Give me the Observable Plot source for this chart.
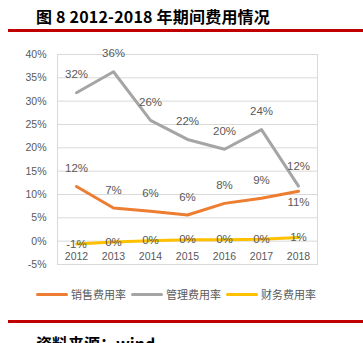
<!DOCTYPE html>
<html><head><meta charset="utf-8">
<script src="https://cdn.jsdelivr.net/npm/d3@7"></script>
<script src="https://cdn.jsdelivr.net/npm/@observablehq/plot@0.6"></script>
<style>
body{margin:0;width:363px;height:343px;overflow:hidden;background:#fff;font-family:"Noto Sans CJK SC","Noto Sans",sans-serif;position:relative}
#title{position:absolute;left:36px;top:4px;font-size:16px;font-weight:bold;color:#000;white-space:nowrap;letter-spacing:0.2px}
.redline{position:absolute;left:8px;right:0;height:3px;background:#c00000}
#chart{position:absolute;left:0;top:0}
#legend{position:absolute;left:36px;top:286px;display:flex;align-items:center;font-size:11px;color:#595959;white-space:nowrap}
#legend .sw{display:inline-block;width:32px;height:3px;border-radius:2px;margin-right:3px}
#legend .it{display:flex;align-items:center;margin-right:5px}
#source{position:absolute;left:36px;top:331px;font-size:16px;font-weight:bold;color:#000;white-space:nowrap}
</style></head>
<body>
<div id="title">图 8 2012-2018 年期间费用情况</div>
<div class="redline" style="top:29px"></div>
<div id="chart"></div>
<div id="legend"></div>
<div class="redline" style="top:320px"></div>
<div id="source">资料来源：wind</div>
<script>
const years = ["2012","2013","2014","2015","2016","2017","2018"];
const sales = [11.7, 7.1, 6.4, 5.6, 8.1, 9.2, 10.7];
const mgmt  = [31.8, 36.3, 25.9, 21.8, 19.7, 23.9, 11.8];
const fin   = [-0.6, -0.2, 0.1, 0.3, 0.3, 0.4, 0.8];
const salesLabels = ["12%","7%","6%","6%","8%","9%","11%"];
const mgmtLabels  = ["32%","36%","26%","22%","20%","24%","12%"];
const finLabels   = ["-1%","0%","0%","0%","0%","0%","1%"];
const yTicks = [-5,0,5,10,15,20,25,30,35,40];
const seriesNames = ["销售费用率","管理费用率","财务费用率"];
const colors = ["#ED7D31","#A5A5A5","#FFC000"];

const rows = (vals, labels, s) => years.map((y,i)=>({year:y, v:vals[i], label:labels[i], s}));
const salesD = rows(sales, salesLabels, seriesNames[0]);
const mgmtD = rows(mgmt, mgmtLabels, seriesNames[1]);
const finD = rows(fin, finLabels, seriesNames[2]);
const last = years[years.length-1];
const txt = {fill:"#595959", fontSize:11.5, fontFamily:"Liberation Sans, Arial, sans-serif"};

const chart = Plot.plot({
  width:363, height:343,
  marginLeft:57, marginRight:46, marginTop:54, marginBottom:79,
  style:{background:"transparent", fontFamily:"Liberation Sans, Arial, sans-serif"},
  x:{type:"point", domain:years, padding:0.5, axis:null},
  y:{domain:[-5,40], ticks:yTicks, tickFormat:d=>d+"%", tickSize:0, tickPadding:11, label:null},
  marks:[
    Plot.ruleY(yTicks, {stroke:"#d9d9d9", strokeWidth:1}),
    Plot.frame({stroke:"#d9d9d9"}),
    Plot.axisY({ticks:yTicks, tickFormat:d=>d+"%", tickSize:0, tickPadding:11, label:null, fill:"#595959", fontSize:10.5}),
    Plot.text(years, {x:d=>d, y:()=>0, text:d=>d, dy:15, fill:"#595959", fontSize:10.5}),
    Plot.line(mgmtD, {x:"year", y:"v", stroke:colors[1], strokeWidth:3, strokeLinejoin:"round"}),
    Plot.line(salesD, {x:"year", y:"v", stroke:colors[0], strokeWidth:3, strokeLinejoin:"round"}),
    Plot.line(finD, {x:"year", y:"v", stroke:colors[2], strokeWidth:3, strokeLinejoin:"round"}),
    Plot.text(mgmtD.filter(d=>d.year!==last), {x:"year", y:"v", text:"label", dy:-18, ...txt}),
    Plot.text(mgmtD.filter(d=>d.year===last), {x:"year", y:"v", text:"label", dy:-20, ...txt}),
    Plot.text(salesD.filter(d=>d.year!==last), {x:"year", y:"v", text:"label", dy:-18, ...txt}),
    Plot.text(salesD.filter(d=>d.year===last), {x:"year", y:"v", text:"label", dy:11, ...txt}),
    Plot.text(finD, {x:"year", y:"v", text:"label", dy:0, ...txt})
  ]
});
document.getElementById("chart").appendChild(chart);

const lg = document.getElementById("legend");
seriesNames.forEach((n,i)=>{
  const it = document.createElement("span"); it.className="it";
  const sw = document.createElement("span"); sw.className="sw"; sw.style.background=colors[i];
  const t = document.createElement("span"); t.textContent=n;
  it.appendChild(sw); it.appendChild(t); lg.appendChild(it);
});
</script>
</body></html>
